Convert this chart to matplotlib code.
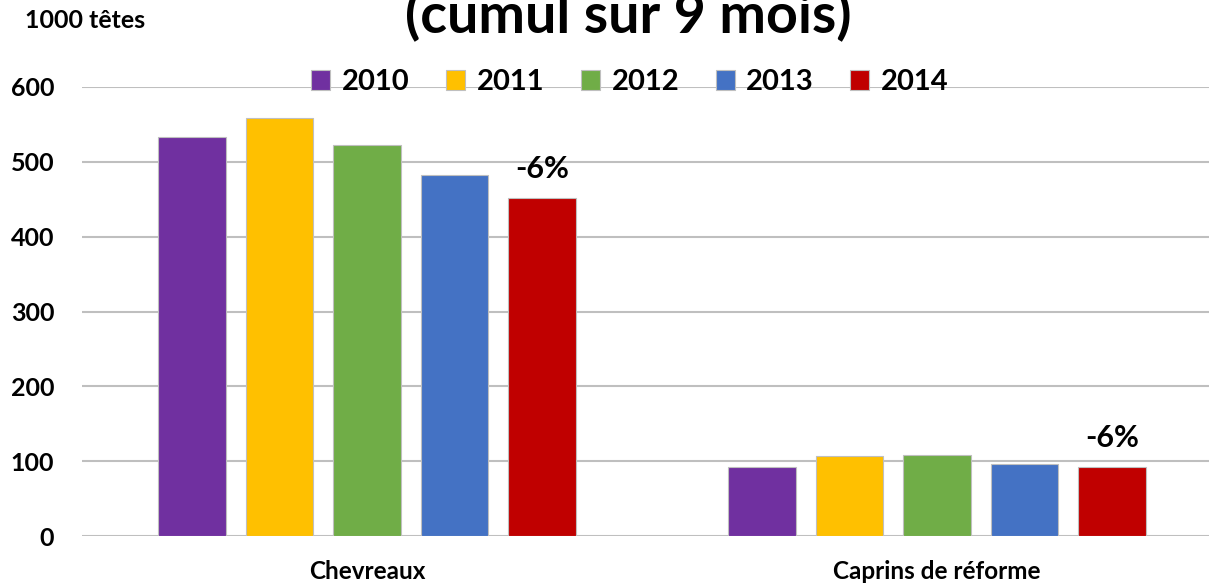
import matplotlib
matplotlib.use("Agg")
import matplotlib.pyplot as plt
from matplotlib.patches import Patch
import numpy as np

categories = ["Chevreaux", "Caprins de réforme"]
years = ["2010", "2011", "2012", "2013", "2014"]
values = {
    "2010": [533, 92],
    "2011": [559, 107],
    "2012": [522, 108],
    "2013": [482, 96],
    "2014": [452, 92],
}
colors = ["#7030A0", "#FFC000", "#70AD47", "#4472C4", "#C00000"]
annotations = ["-6%", "-6%"]
yticks = [0, 100, 200, 300, 400, 500, 600]

plt.rcParams['font.family'] = ['Lato', 'DejaVu Sans']
plt.rcParams['font.weight'] = 'bold'

W, H = 1209, 586
fig = plt.figure(figsize=(W / 100, H / 100), dpi=100)
ax = fig.add_axes([82 / W, 1 - 536 / H, 1 - 82 / W, (536 - 87) / H])

x = np.arange(len(categories))
bw = 0.119
step = 0.1535
for i, y in enumerate(years):
    ax.bar(x + (i - 2) * step, values[y], width=bw, color=colors[i],
           edgecolor="#BFBFBF", linewidth=0.8, zorder=3, label=y)

for j, txt in enumerate(annotations):
    ax.annotate(txt, (x[j] + 2 * step, values["2014"][j]), xytext=(0, 21),
                textcoords="offset points", ha="center", va="center",
                fontsize=22, fontweight="bold", color="black")

ax.set_xlim(-0.5, -0.5 + (W - 82) / 570)
ax.set_ylim(0, 600)
ax.set_yticks(yticks)
ax.yaxis.grid(True, color="#BFBFBF", linewidth=1.5, zorder=0)
ax.set_axisbelow(True)
for s in ax.spines.values():
    s.set_visible(False)
ax.tick_params(axis="y", length=0, pad=20, labelsize=18)
ax.set_xticks(x)
ax.set_xticklabels(categories, fontsize=17.5, fontweight="bold")
ax.tick_params(axis="x", length=0, pad=17)

handles = [Patch(facecolor=c, edgecolor="#BFBFBF", linewidth=0.8) for c in colors]
leg = fig.legend(handles, years, loc="center", bbox_to_anchor=(630 / W, 1 - 82 / H),
                 ncol=5, frameon=False, handlelength=0.65,
                 handleheight=0.68, handletextpad=0.4, columnspacing=1.25,
                 prop={"weight": "bold", "size": 21})

fig.text(628 / W, 1 - 33 / H, "(cumul sur 9 mois)", ha="center", va="baseline",
         fontsize=40, fontweight="bold")
fig.text(25 / W, 1 - 20 / H, "1000 têtes", ha="left", va="center",
         fontsize=18, fontweight="bold")

fig.savefig("out.png", dpi=100)
